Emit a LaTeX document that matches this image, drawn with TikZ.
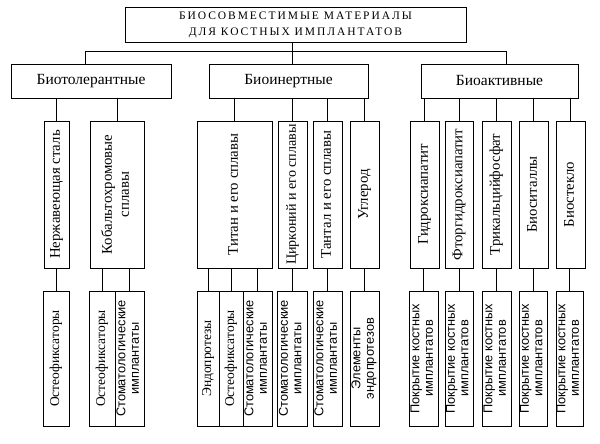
\documentclass[tikz,border=0pt]{standalone}
\usepackage{fontspec}
\setmainfont{Liberation Serif}
\newfontfamily\sansf{Liberation Sans}
\newfontfamily\titlef[LetterSpace=17]{Liberation Serif}
\newcommand\vtxt[1]{\rotatebox{90}{\begin{tabular}{@{}c@{}}#1\end{tabular}}}
\tikzset{
  box/.style={draw, line width=0.8pt, inner sep=0pt, align=center},
  lvone/.style={box, minimum height=34pt, font=\fontsize{15.5}{18}\selectfont},
  lvtwo/.style={box, minimum height=147pt, font=\fontsize{14.8}{17}\selectfont},
  lvthree/.style={box, minimum height=135pt, font=\fontsize{13.5}{15}\selectfont},
  lvsans/.style={box, minimum height=135pt, font=\sansf\fontsize{12.8}{13.5}\selectfont},
  conn/.style={line width=0.8pt},
}
\begin{document}
\begin{tikzpicture}[x=1pt,y=-1pt]
\useasboundingbox (0,0) rectangle (600,444);
% title
\node[box, minimum width=341pt, minimum height=35pt, font=\titlef\fontsize{11.5}{16}\selectfont] (top) at (295.5,24.5)
  {БИОСОВМЕСТИМЫЕ МАТЕРИАЛЫ\\ДЛЯ КОСТНЫХ ИМПЛАНТАТОВ};
% level 1
\node[lvone, minimum width=160pt] (bt) at (91,81) {Биотолерантные};
\node[lvone, minimum width=159pt] (bi) at (288.5,81) {Биоинертные};
\node[lvone, minimum width=157pt] (ba) at (499.5,81) {Биоактивные};
% level 2
\node[lvtwo, minimum width=25pt] (n1) at (56.5,194.5) {\vtxt{Нержавеющая сталь}};
\node[lvtwo, minimum width=54pt] (n2) at (117,194.5) {\vtxt{Кобальтохромовые\\сплавы}};
\node[lvtwo, minimum width=75pt] (n3) at (234.5,194.5) {\vtxt{Титан и его сплавы}};
\node[lvtwo, minimum width=29pt, font=\fontsize{14.1}{17}\selectfont] (n4) at (292.5,194.5) {\vtxt{Цирконий и его сплавы}};
\node[lvtwo, minimum width=29pt] (n5) at (327.5,194.5) {\vtxt{Тантал и его сплавы}};
\node[lvtwo, minimum width=29pt] (n6) at (364.5,194.5) {\vtxt{Углерод}};
\node[lvtwo, minimum width=29pt] (n7) at (424.5,194.5) {\vtxt{Гидроксиапатит}};
\node[lvtwo, minimum width=28pt] (n8) at (459,194.5) {\vtxt{Фторгидроксиапатит}};
\node[lvtwo, minimum width=29pt] (n9) at (496.5,194.5) {\vtxt{Трикальцийфосфат}};
\node[lvtwo, minimum width=29pt] (n10) at (533.5,194.5) {\vtxt{Биоситаллы}};
\node[lvtwo, minimum width=29pt] (n11) at (570.5,194.5) {\vtxt{Биостекло}};
% level 3
\node[lvthree, minimum width=26pt] (m1) at (56,358.5) {\vtxt{Остеофиксаторы}};
\node[lvthree, minimum width=26pt] (m2a) at (102,358.5) {\vtxt{Остеофиксаторы}};
\node[lvsans, minimum width=29pt] (m2b) at (129.5,358.5) {\vtxt{Стоматологические\\имплантаты}};
\node[lvthree, minimum width=22pt] (m3a) at (208,358.5) {\vtxt{Эндопротезы}};
\node[lvthree, minimum width=24pt] (m3b) at (231,358.5) {\vtxt{Остеофиксаторы}};
\node[lvsans, minimum width=29pt] (m3c) at (257.5,358.5) {\vtxt{Стоматологические\\имплантаты}};
\node[lvsans, minimum width=30pt] (m4) at (292,358.5) {\vtxt{Стоматологические\\имплантаты}};
\node[lvsans, minimum width=29pt] (m5) at (327.5,358.5) {\vtxt{Стоматологические\\имплантаты}};
\node[lvsans, minimum width=29pt] (m6) at (364.5,358.5) {\vtxt{Элементы\\эндопротезов}};
\node[lvsans, minimum width=29pt] (m7) at (423.5,358.5) {\vtxt{Покрытие костных\\имплантатов}};
\node[lvsans, minimum width=28pt] (m8) at (459,358.5) {\vtxt{Покрытие костных\\имплантатов}};
\node[lvsans, minimum width=29pt] (m9) at (496.5,358.5) {\vtxt{Покрытие костных\\имплантатов}};
\node[lvsans, minimum width=28pt] (m10) at (533,358.5) {\vtxt{Покрытие костных\\имплантатов}};
\node[lvsans, minimum width=27pt] (m11) at (569.5,358.5) {\vtxt{Покрытие костных\\имплантатов}};
% connectors: title to level 1
\draw[conn] ([xshift=-3.5pt]top.south) -- ([xshift=3.5pt]bi.north);
\draw[conn] ([xshift=-6pt]bt.north) -- ++(0,-12) -| ([xshift=6.5pt]ba.north);
% level 1 to level 2
\foreach \c/\p in {n1/bt,n2/bt,n3/bi,n4/bi,n5/bi,n6/bi,n7/ba,n8/ba,n9/ba,n10/ba,n11/ba}
  \draw[conn] (\c.north) -- (\c.north |- \p.south);
% level 2 to level 3
\foreach \c/\p in {m1/n1,m2a/n2,m2b/n2,m3a/n3,m3b/n3,m3c/n3,m4/n4,m5/n5,m6/n6,m7/n7,m8/n8,m9/n9,m10/n10,m11/n11}
  \draw[conn] (\c.north) -- (\c.north |- \p.south);
\end{tikzpicture}
\end{document}
